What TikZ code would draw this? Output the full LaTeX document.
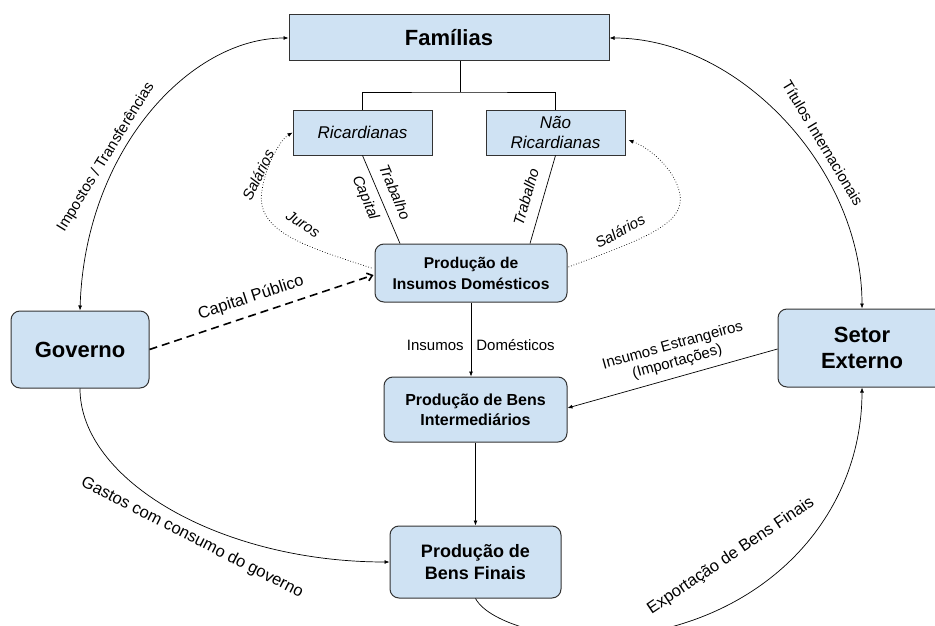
\documentclass[tikz,border=0pt]{standalone}
\usepackage{fontspec}
\setmainfont{Liberation Sans}
\usetikzlibrary{arrows.meta, positioning, calc}
\definecolor{boxblue}{HTML}{CFE2F3}
\tikzset{
    flowdiagram/.style={x=1pt, y=-1pt, >={Latex[length=5pt, width=4pt]}, line width=0.7pt},
    sector/.style={draw=black!80, fill=boxblue, line width=1pt, align=center, inner sep=0pt},
    stage/.style={sector, rounded corners=9pt},
    household/.style={sector, font=\fontsize{17}{20}\selectfont\itshape},
    flowlabel/.style={font=\fontsize{15}{17}\selectfont, inner sep=1pt},
    factor/.style={flowlabel, font=\fontsize{15}{17}\selectfont\itshape},
    biglabel/.style={font=\fontsize{16.5}{19}\selectfont, inner sep=1pt},
    payment/.style={dotted, ->},
    % public capital: thick dashed with an open head
    investment/.style={dash pattern=on 8pt off 5pt, line width=1.6pt, -{Straight Barb[length=5pt, width=8pt]}},
}

\begin{document}
\begin{tikzpicture}[flowdiagram]
    \useasboundingbox (0,0) rectangle (935,626);

    \node[sector, minimum width=320pt, minimum height=46pt, font=\fontsize{22}{26}\selectfont\bfseries] (familias) at (449,38) {Famílias};
    \node[household, minimum width=139pt, minimum height=45pt] (ricard) at (362.5,132.5) {Ricardianas};
    \node[household, minimum width=139pt, minimum height=45pt] (naoric) at (555.5,132.5) {Não\\Ricardianas};
    \node[stage, minimum width=192pt, minimum height=58pt, font=\fontsize{15.6}{21}\selectfont\bfseries] (insumos) at (471,273) {Produção de\\Insumos Domésticos};
    \node[stage, minimum width=183pt, minimum height=65pt, font=\fontsize{16}{20}\selectfont\bfseries] (interm) at (475.5,409.5) {Produção de Bens\\Intermediários};
    \node[stage, minimum width=171pt, minimum height=72pt, font=\fontsize{18}{22}\selectfont\bfseries] (finais) at (475.5,562) {Produção de\\Bens Finais};
    \node[stage, minimum width=138pt, minimum height=77pt, font=\fontsize{22}{26}\selectfont\bfseries] (governo) at (80,349.5) {Governo};
    \node[stage, minimum width=168pt, minimum height=78pt, font=\fontsize{22}{26}\selectfont\bfseries] (setor) at (862,348) {Setor\\Externo};

    % families split in two types
    \coordinate (fork) at (460,92);
    \draw (familias.south -| fork) -- (fork);
    \draw (ricard.north) |- (fork) -| (naoric.north);

    % labour and capital supplied to domestic inputs
    \draw (ricard.south) -- ($(insumos.north)+(-71,0)$)
        node[factor, rotate=-67] at (395,192) {Trabalho}
        node[factor, rotate=-67] at (365,198) {Capital};
    \draw (naoric.south) -- ($(insumos.north)+(59,0)$)
        node[factor, rotate=74] at (526,197) {Trabalho};

    % payments back to the families
    \draw[payment] ($(insumos.west)+(-3,-5)$) .. controls (300,245) and (255,230) .. (262,190) .. controls (266,165) and (280,140) .. (ricard.west)
        node[factor, rotate=64] at (258,175) {Salários}
        node[factor, rotate=-33] at (303,224) {Juros};
    \draw[payment] ($(insumos.east)+(1,-6)$) .. controls (640,240) and (685,225) .. (680,195) .. controls (676,170) and (650,148) .. ($(naoric.east)+(3,7.5)$)
        node[factor, rotate=29] at (620,231) {Salários};

    % government
    \draw[investment] (governo.east) -- ($(insumos.west)+(-1,2)$)
        node[biglabel, rotate=18] at (251,298) {Capital Público};
    \draw[<->] (familias.west) .. controls (190,38) and (85,150) .. (governo.north)
        node[flowlabel, rotate=58.5] at (106,157) {Impostos / Transferências};
    \draw[->] (governo.south) .. controls (80,480) and (220,562) .. (finais.west)
        node[biglabel, rotate=-27] at (192,538) {Gastos com consumo do governo};

    % production chain
    \draw[->] (insumos.south) -- node[flowlabel, left=6pt, pos=0.58] {Insumos} node[flowlabel, right=4pt, pos=0.58] {Domésticos} (insumos.south |- interm.north);
    \draw[->] (interm) -- (finais);

    % external sector
    \draw[->] ($(setor.west)+(0,1)$) -- ($(interm.east)+(0,-1.5)$)
        node[flowlabel, rotate=15.6, align=center] at (675,354) {Insumos Estrangeiros\\(Importações)};
    \draw[<->] (familias.east) .. controls (740,38) and (862,170) .. (setor.north)
        node[flowlabel, rotate=-59] at (823,143) {Títulos Internacionais};
    \draw[->] (finais.south) .. controls (490,625) and (560,640) .. (600,638) .. controls (760,630) and (862,520) .. (setor.south)
        node[biglabel, rotate=34] at (731,556) {Exportação de Bens Finais};
\end{tikzpicture}
\end{document}
